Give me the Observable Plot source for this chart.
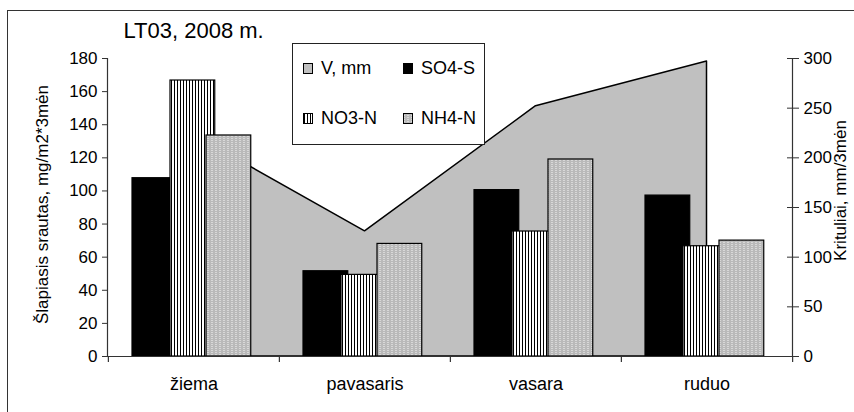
<!DOCTYPE html>
<html>
<head>
<meta charset="utf-8">
<script src="https://cdn.jsdelivr.net/npm/d3@7"></script>
<script src="https://cdn.jsdelivr.net/npm/@observablehq/plot@0.6"></script>
<style>
  html, body { margin: 0; padding: 0; background: #fff; overflow: hidden; }
  #wrap { position: relative; width: 854px; height: 412px; overflow: hidden;
          font-family: "Liberation Sans", Arial, sans-serif; }
  #wrap > svg.chart { position: absolute; left: 0; top: 0; }
  #wrap > svg#legend { position: absolute; left: 292px; top: 43px; }
  #border { position: absolute; left: 7px; top: 10px; width: 900px; height: 500px;
            border: 1.5px solid #333; box-sizing: border-box; pointer-events: none; }
</style>
</head>
<body>
<div id="wrap">
  <div id="border"></div>
</div>
<script>
// Seasonal wet deposition at LT03, 2008
const seasons   = ["žiema", "pavasaris", "vasara", "ruduo"];
const so4       = [107.7, 51.5, 100.5, 97.2];   // SO4-S, mg/m2 per 3 months
const no3       = [166.7, 49.3, 75.5, 66.6];    // NO3-N
const nh4       = [133.5, 68.0, 119.0, 70.0];   // NH4-N
const precip    = [223, 126, 252, 297];         // V, mm per 3 months
const leftTicks  = [0, 20, 40, 60, 80, 100, 120, 140, 160, 180];
const rightTicks = [0, 50, 100, 150, 200, 250, 300];
const seriesNames = ["V, mm", "SO4-S", "NO3-N", "NH4-N"];
const title = "LT03, 2008 m.";
const leftLabel = "Šlapiasis srautas, mg/m2*3mėn";
const rightLabel = "Krituliai, mm/3mėn";

const W = 854, H = 412, ML = 107, MR = 62, MT = 58, MB = 56;
const band = (W - ML - MR) / seasons.length;
const k = 180 / 300; // precipitation axis mapped onto the flux axis

const rows = seasons.map((s, i) => ({season: s, so4: so4[i], no3: no3[i], nh4: nh4[i], v: precip[i]}));
const font = "Liberation Sans, Arial, sans-serif";
const none = () => "";

const plot = Plot.plot({
  width: W, height: H,
  marginLeft: ML, marginRight: MR, marginTop: MT, marginBottom: MB,
  style: {fontFamily: font, fontSize: "17px", color: "#000", background: "transparent", overflow: "visible"},
  x: {type: "band", domain: seasons, padding: 0, axis: null},
  y: {domain: [0, 180], axis: null},
  marks: [
    Plot.areaY(rows, {x: "season", y: d => d.v * k, fill: "#c0c0c0", stroke: "#000", strokeWidth: 1.5}),
    Plot.barY(rows, {x: "season", y: "so4", fill: "#000", stroke: "#000", strokeWidth: 1.2,
                     insetLeft: 24, insetRight: band - 69}),
    Plot.barY(rows, {x: "season", y: "no3", fill: "url(#pat-no3)", stroke: "#000", strokeWidth: 1.2,
                     insetLeft: 62, insetRight: band - 107}),
    Plot.barY(rows, {x: "season", y: "nh4", fill: "url(#pat-nh4)", stroke: "#000", strokeWidth: 1.2,
                     insetLeft: 98, insetRight: band - 143}),
    Plot.ruleY([0], {stroke: "#333", strokeWidth: 1.2}),
    Plot.frame({anchor: "left", stroke: "#333", strokeWidth: 1.2}),
    Plot.frame({anchor: "right", stroke: "#333", strokeWidth: 1.2}),
    // left axis
    Plot.axisY(leftTicks, {anchor: "left", tickSize: 5, tickPadding: 5, fontSize: 17, stroke: "#333", label: null}),
    // right axis (precipitation), ticks cross the axis line
    Plot.axisY(rightTicks.map(v => v * k), {anchor: "right", tickSize: 12, dx: -6, stroke: "#333",
                tickFormat: none, label: null}),
    Plot.axisY(rightTicks.map(v => v * k), {anchor: "right", tickSize: 0, tickPadding: 11, fontSize: 17,
                tickFormat: d => Math.round(d / k), label: null}),
    // category axis: short ticks below the baseline at the band boundaries
    Plot.ruleX(seasons, {x: d => d, dx: -band / 2, insetTop: H - MT - MB, insetBottom: -6, stroke: "#333", strokeWidth: 1.2}),
    Plot.ruleX(seasons.slice(-1), {x: d => d, dx: band / 2, insetTop: H - MT - MB, insetBottom: -6, stroke: "#333", strokeWidth: 1.2}),
    Plot.axisX(seasons, {anchor: "bottom", tickSize: 0, tickPadding: 21, fontSize: 18, label: null}),
    // titles
    Plot.text([title], {frameAnchor: "top-left", text: d => d, textAnchor: "start", lineAnchor: "middle",
                        dx: 16, dy: -28, fontSize: 22}),
    Plot.text([leftLabel], {frameAnchor: "left", text: d => d, textAnchor: "middle", rotate: -90,
                            dx: -65, dy: -3, fontSize: 17}),
    Plot.text([rightLabel], {frameAnchor: "right", text: d => d, textAnchor: "middle", rotate: -90,
                             dx: 48, dy: -17, fontSize: 17})
  ]
});
plot.classList.add("chart");

// fill patterns for the nitrogen series
const defs = d3.select(plot).insert("defs", ":first-child");
const p1 = defs.append("pattern").attr("id", "pat-no3").attr("patternUnits", "userSpaceOnUse")
  .attr("width", 3).attr("height", 3);
p1.append("rect").attr("width", 3).attr("height", 3).attr("fill", "#fff");
p1.append("rect").attr("width", 1).attr("height", 3).attr("fill", "#000");
const p2 = defs.append("pattern").attr("id", "pat-nh4").attr("patternUnits", "userSpaceOnUse")
  .attr("width", 4).attr("height", 4);
p2.append("rect").attr("width", 4).attr("height", 4).attr("fill", "#fff");
p2.append("path").attr("d", "M0,0.5 L1,1.5 L2,0.5 L3,1.5 L4,0.5 M0,2.5 L1,3.5 L2,2.5 L3,3.5 L4,2.5")
  .attr("stroke", "#3a3a3a").attr("stroke-width", 0.8).attr("fill", "none");

const wrap = document.getElementById("wrap");
wrap.insertBefore(plot, wrap.firstChild);

// legend box
const fills = ["#c0c0c0", "#000", "url(#pat-no3)", "url(#pat-nh4)"];
const lg = d3.select(wrap).append("svg").attr("id", "legend").attr("width", 194).attr("height", 103);
lg.append("rect").attr("x", 0.5).attr("y", 0.5).attr("width", 192).attr("height", 101)
  .attr("fill", "#fff").attr("stroke", "#222");
seriesNames.forEach((name, i) => {
  const cx = i % 2 === 0 ? 11 : 111;
  const base = i < 2 ? 31 : 81;
  lg.append("rect").attr("x", cx + 0.5).attr("y", base - 10.5).attr("width", 9).attr("height", 10)
    .attr("fill", fills[i]).attr("stroke", "#000").attr("stroke-width", 1);
  lg.append("text").attr("x", cx + 18).attr("y", base).attr("font-family", font)
    .attr("font-size", 18).text(name);
});
</script>
</body>
</html>
